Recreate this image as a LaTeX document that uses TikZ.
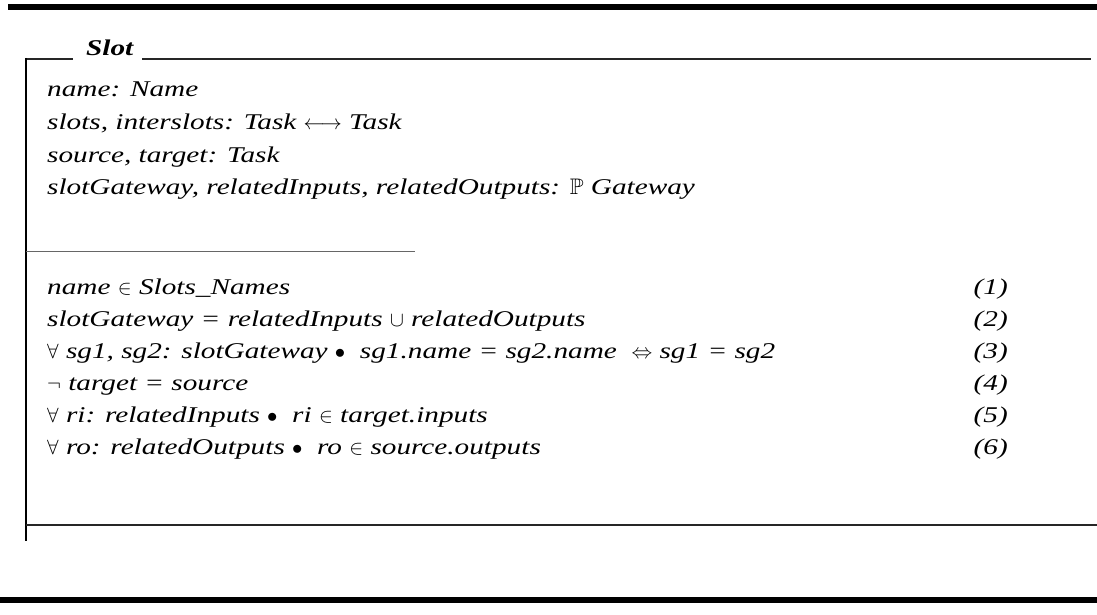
\documentclass[tikz,border=0pt]{standalone}
\usepackage{fontspec}
\usepackage{amssymb}
\setmainfont{Liberation Serif}[FakeStretch=1.3]
\newcommand{\zsize}{\fontsize{22.5pt}{27pt}\selectfont}
\newcommand{\zdot}{\ $\bullet$\ \ }

\begin{document}
\begin{tikzpicture}[x=1pt,y=-1pt,
  zline/.style={anchor=base west, inner sep=0pt, font=\zsize\itshape},
  zname/.style={anchor=base west, inner sep=0pt, font=\zsize\bfseries\itshape},
  znum/.style={anchor=base east, inner sep=0pt, font=\zsize\itshape},
  rule/.style={line width=5.5pt, black},
  frameline/.style={line width=1.4pt, black!85},
  leftbar/.style={line width=2.6pt, black},
  divider/.style={line width=1pt, black!60}]
\useasboundingbox (0,0) rectangle (1097,615);

% page rules above and below the schema
\draw[rule] (8,7) -- (1097,7);
\draw[rule] (0,600) -- (1097,600);

% schema box: title, top rule, left bar, divider, bottom rule
\node[zname] (title) at (86,56) {Slot};
\draw[frameline] (26,59) -- (73,59);
\draw[frameline] (142,59) -- (1091,59);
\draw[leftbar] (26,58) -- (26,541);
\draw[divider] (26,251) -- (415,251);
\draw[frameline] (26,525) -- (1097,525);

% declarations
\node[zline] (d1) at (47,97)  {name: Name};
\node[zline] (d2) at (47,130) {slots, interslots: Task $\longleftrightarrow$ Task};
\node[zline] (d3) at (47,162) {source, target: Task};
\node[zline] (d4) at (47,194) {slotGateway, relatedInputs, relatedOutputs: $\mathbb{P}$ Gateway};

% predicates
\node[zline] (p1) at (47,294) {name $\in$ Slots\_Names};
\node[zline] (p2) at (47,326) {slotGateway = relatedInputs $\cup$ relatedOutputs};
\node[zline] (p3) at (47,358) {$\forall$ sg1, sg2: slotGateway\zdot sg1.name = sg2.name \ $\Leftrightarrow$\ sg1 = sg2};
\node[zline] (p4) at (47,390) {$\neg$ target = source};
\node[zline] (p5) at (47,422) {$\forall$ ri: relatedInputs\zdot ri $\in$ target.inputs};
\node[zline] (p6) at (47,454) {$\forall$ ro: relatedOutputs\zdot ro $\in$ source.outputs};

% predicate numbers
\node[znum] (n1) at (1008,294) {(1)};
\node[znum] (n2) at (1008,326) {(2)};
\node[znum] (n3) at (1008,358) {(3)};
\node[znum] (n4) at (1008,390) {(4)};
\node[znum] (n5) at (1008,422) {(5)};
\node[znum] (n6) at (1008,454) {(6)};
\end{tikzpicture}
\end{document}
